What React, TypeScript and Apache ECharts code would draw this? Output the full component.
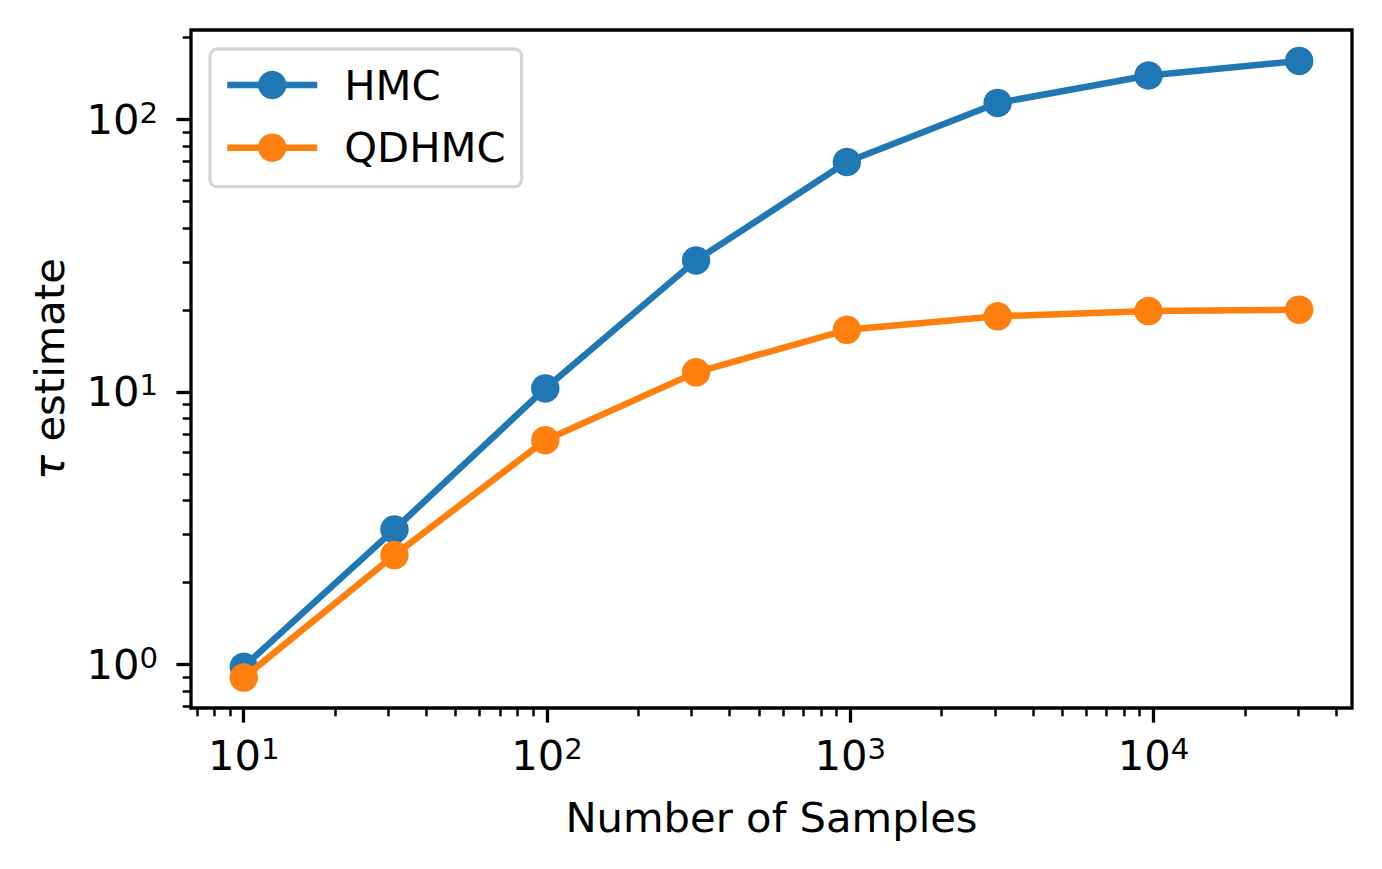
import React, { useEffect, useRef } from 'react';
import * as echarts from 'echarts';

// ---- data ----
const samples = [10, 31.4, 98.7, 310, 974, 3060, 9620, 30200];
const hmcTau = [0.98, 3.13, 10.3, 30.4, 69.8, 115, 145, 164];
const qdhmcTau = [0.895, 2.52, 6.65, 11.8, 16.9, 18.95, 19.8, 20.05];
const seriesNames = ['HMC', 'QDHMC'];
const seriesColors = ['#1f77b4', '#ff7f0e'];

// axis limits (real units) and major tick exponents
const xLimits = [6.7, 45100];
const yLimits = [0.692, 213];
const xMajorExponents = [1, 2, 3, 4];
const yMajorExponents = [0, 1, 2];
const minorMultipliers = [2, 3, 4, 5, 6, 7, 8, 9];

const xLabel = 'Number of Samples';
const yLabel = '{i|τ} estimate';

const FONT = 'DejaVu Sans';
const FS = 41.7;

function minorTicks(lo: number, hi: number): number[] {
  const out: number[] = [];
  for (let e = Math.floor(lo) - 1; e <= Math.ceil(hi); e++) {
    for (const k of minorMultipliers) {
      const v = Math.log10(k) + e;
      if (v > lo && v < hi) out.push(v);
    }
  }
  return out;
}

export default function App() {
  const ref = useRef<HTMLDivElement>(null);
  useEffect(() => {
    document.body.style.margin = '0';
    if (!ref.current) return;
    const chart = echarts.init(ref.current, null, { renderer: 'svg' });
    const xl = [Math.log10(xLimits[0]), Math.log10(xLimits[1])];
    const yl = [Math.log10(yLimits[0]), Math.log10(yLimits[1])];
    const rich = {
      b: { fontSize: FS, fontFamily: FONT, color: '#000', lineHeight: 42 },
      s: { fontSize: 29.2, fontFamily: FONT, color: '#000', lineHeight: 25, verticalAlign: 'top' },
    };
    const fmt = (v: number) => `{b|10}{s|${Math.round(v)}}`;
    const hidden = { show: false };
    const noLine = { show: false, onZero: false };
    const majorTick = { show: true, inside: false, length: 14.6, lineStyle: { color: '#000', width: 3.3 } };
    const minorTick = { show: true, inside: false, length: 8.3, lineStyle: { color: '#000', width: 2.5 } };

    const option: any = {
      animation: false,
      backgroundColor: '#fff',
      grid: {
        left: 191, top: 30, right: 30, bottom: 161,
        show: true, borderColor: '#000', borderWidth: 3.3, backgroundColor: 'transparent',
        containLabel: false,
      },
      xAxis: [
        {
          type: 'value', position: 'bottom', min: xl[0], max: xl[1],
          axisLine: noLine, splitLine: hidden,
          axisTick: { ...majorTick, customValues: xMajorExponents },
          axisLabel: { show: true, customValues: xMajorExponents, formatter: fmt, rich, margin: 26 },
          name: xLabel, nameLocation: 'middle', nameGap: 88,
          nameTextStyle: { fontSize: FS, fontFamily: FONT, color: '#000' },
        },
        {
          type: 'value', position: 'bottom', min: xl[0], max: xl[1],
          axisLine: noLine, splitLine: hidden, axisLabel: hidden,
          axisTick: { ...minorTick, customValues: minorTicks(xl[0], xl[1]) },
        },
      ],
      yAxis: [
        {
          type: 'value', position: 'left', min: yl[0], max: yl[1],
          axisLine: noLine, splitLine: hidden,
          axisTick: { ...majorTick, customValues: yMajorExponents },
          axisLabel: { show: true, customValues: yMajorExponents, formatter: fmt, rich, margin: 33 },
          name: yLabel, nameLocation: 'middle', nameGap: 121,
          nameTextStyle: {
            fontSize: FS, fontFamily: FONT, color: '#000',
            rich: { i: { fontSize: FS, fontFamily: FONT, fontStyle: 'italic', color: '#000' } },
          },
        },
        {
          type: 'value', position: 'left', min: yl[0], max: yl[1],
          axisLine: noLine, splitLine: hidden, axisLabel: hidden,
          axisTick: { ...minorTick, customValues: minorTicks(yl[0], yl[1]) },
        },
      ],
      legend: {
        orient: 'vertical', left: 210, top: 49,
        data: seriesNames,
        itemWidth: 90, itemHeight: 35.6, itemGap: 20.7,
        padding: [15, 16, 18, 14],
        borderColor: '#d6d6d6', borderWidth: 3.3, borderRadius: 7,
        backgroundColor: 'rgba(255,255,255,0.8)',
        lineStyle: { width: 6.5 },
        formatter: '{g|}{name}',
        textStyle: {
          fontSize: FS, fontFamily: FONT, color: '#000', lineHeight: 42,
          rich: { g: { width: 22 } },
        },
      },
      series: [hmcTau, qdhmcTau].map((vals, si) => ({
        type: 'line',
        name: seriesNames[si],
        xAxisIndex: 0, yAxisIndex: 0,
        data: samples.map((s, i) => [Math.log10(s), Math.log10(vals[i])]),
        symbol: 'circle', symbolSize: 28.5, showSymbol: true,
        lineStyle: { width: 6.5, color: seriesColors[si] },
        itemStyle: { color: seriesColors[si] },
        z: 2 + si,
        clip: false,
      })),
    };
    chart.setOption(option);
    return () => chart.dispose();
  }, []);
  return <div ref={ref} style={{ width: 1382, height: 869 }} />;
}
